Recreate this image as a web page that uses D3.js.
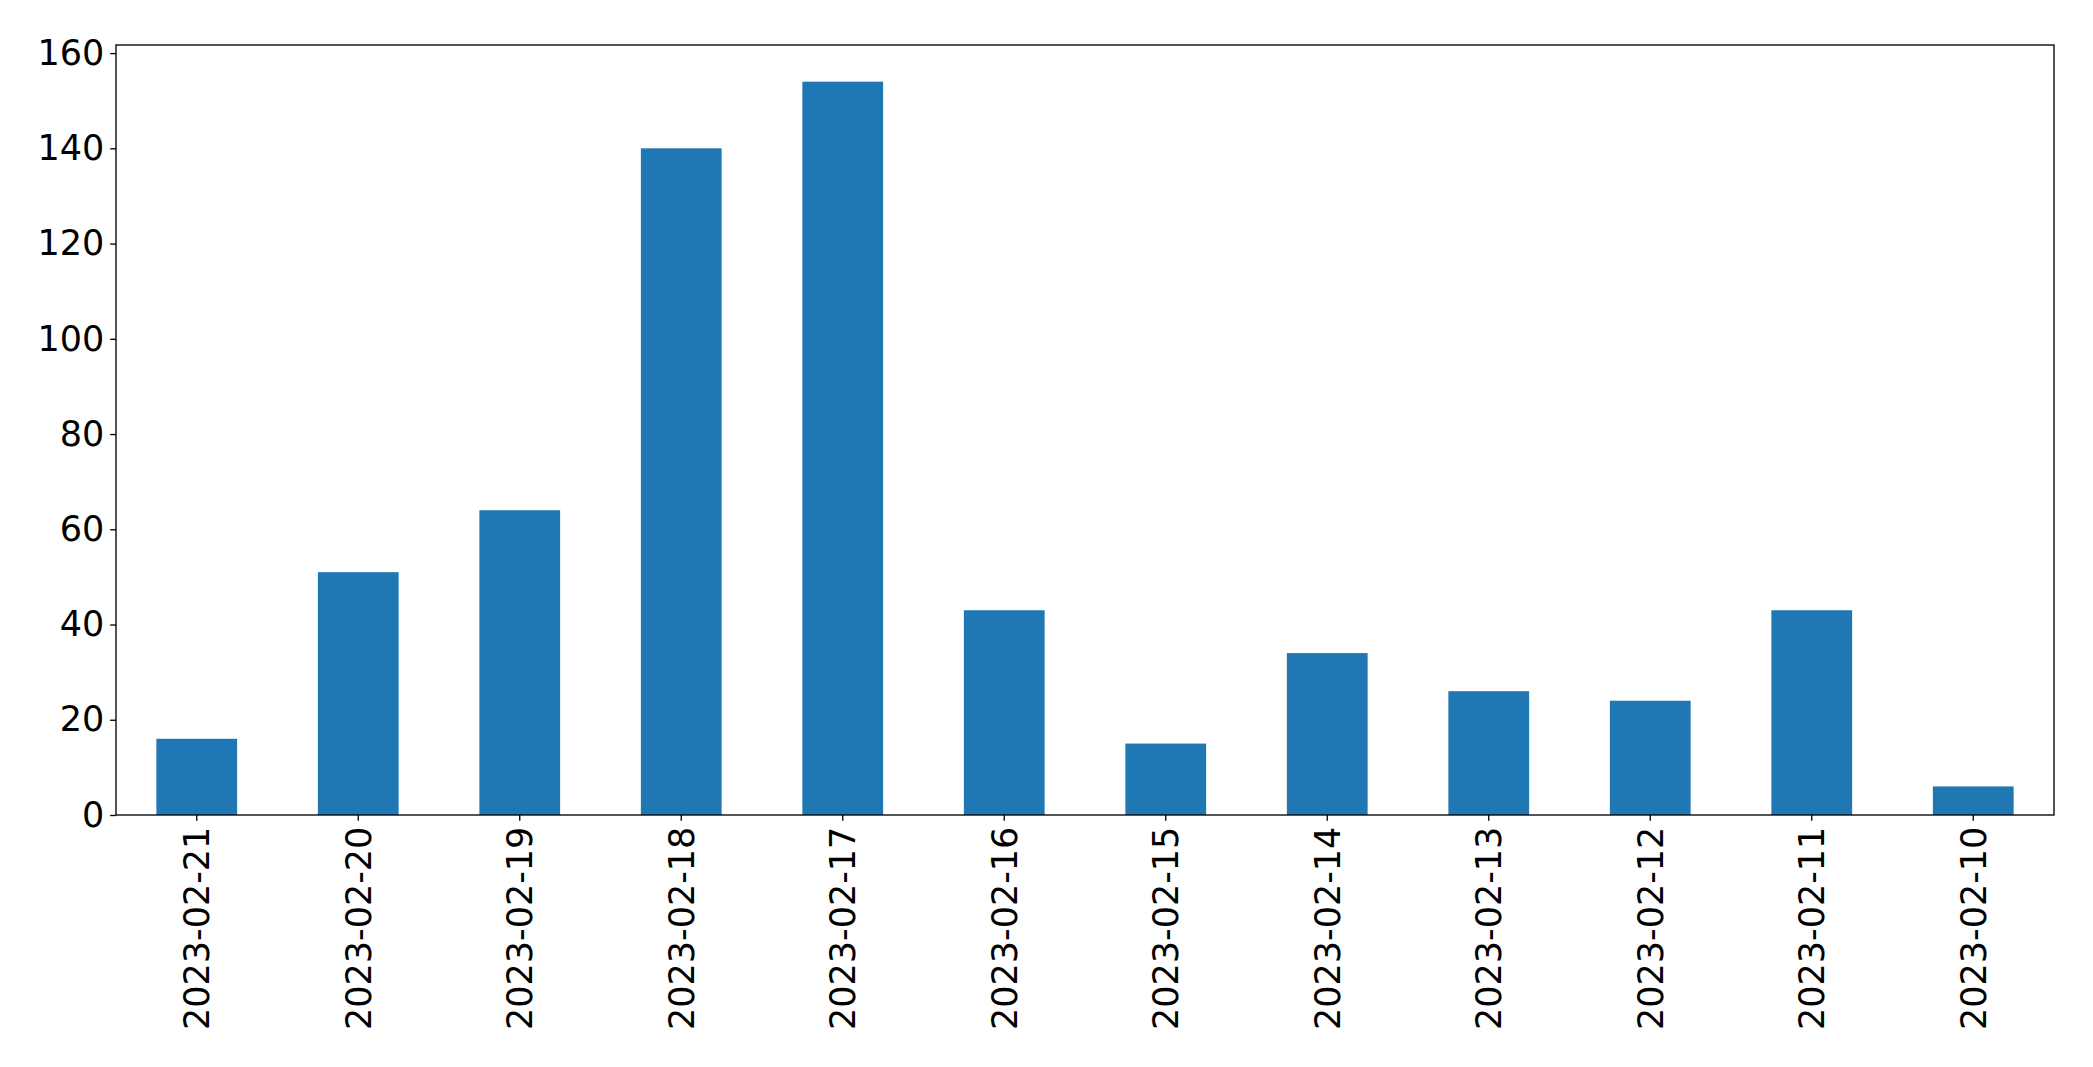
<!DOCTYPE html>
<html>
<head>
<meta charset="utf-8">
<script src="https://cdn.jsdelivr.net/npm/d3@7"></script>
<style>
  html, body { margin: 0; padding: 0; background: #fff; }
  svg { display: block; }
  text { font-family: "DejaVu Sans", sans-serif; }
</style>
</head>
<body>
<script>
const categories = ["2023-02-21","2023-02-20","2023-02-19","2023-02-18","2023-02-17","2023-02-16","2023-02-15","2023-02-14","2023-02-13","2023-02-12","2023-02-11","2023-02-10"];
const values = [16, 51, 64, 140, 154, 43, 15, 34, 26, 24, 43, 6];
const yTicks = [0, 20, 40, 60, 80, 100, 120, 140, 160];

const W = 2093, H = 1067;
const margin = {left: 116, right: W - 2054, top: 45, bottom: H - 815};
const fontPx = 35, tickLen = 5.83, tickPad = 5.83;

const svg = d3.select("body").append("svg").attr("width", W).attr("height", H);

const x = d3.scaleBand().domain(categories)
  .range([margin.left, W - margin.right])
  .paddingInner(0.5).paddingOuter(0.25);
const yMax = d3.max(values) * 1.05;
const y = d3.scaleLinear().domain([0, yMax]).range([H - margin.bottom, margin.top]);

svg.append("g").selectAll("rect").data(values).join("rect")
  .attr("x", (d, i) => x(categories[i]))
  .attr("width", x.bandwidth())
  .attr("y", d => y(d))
  .attr("height", d => y(0) - y(d))
  .attr("fill", "#1f77b4");

// Y axis
const yAxis = svg.append("g").attr("transform", `translate(${margin.left},0)`)
  .call(d3.axisLeft(y).tickValues(yTicks).tickSize(tickLen).tickPadding(tickPad).tickFormat(d3.format("d")));
yAxis.select(".domain").remove();
yAxis.selectAll("line").attr("stroke", "#000").attr("stroke-width", 1.33);
yAxis.selectAll("text").attr("font-size", fontPx).attr("fill", "#000")
  .attr("font-family", "DejaVu Sans, sans-serif");

// X axis
const xAxis = svg.append("g").attr("transform", `translate(0,${H - margin.bottom})`)
  .call(d3.axisBottom(x).tickSize(tickLen).tickPadding(tickPad));
xAxis.select(".domain").remove();
xAxis.selectAll("line").attr("stroke", "#000").attr("stroke-width", 1.33);
xAxis.selectAll("text")
  .attr("font-size", fontPx).attr("fill", "#000")
  .attr("font-family", "DejaVu Sans, sans-serif")
  .attr("transform", `rotate(-90)`)
  .attr("x", -(tickLen + tickPad))
  .attr("y", 0)
  .attr("dy", "0.35em")
  .attr("text-anchor", "end");

// Frame
svg.append("rect")
  .attr("x", margin.left).attr("y", margin.top)
  .attr("width", W - margin.right - margin.left)
  .attr("height", H - margin.bottom - margin.top)
  .attr("fill", "none").attr("stroke", "#000").attr("stroke-width", 1.33);
</script>
</body>
</html>
